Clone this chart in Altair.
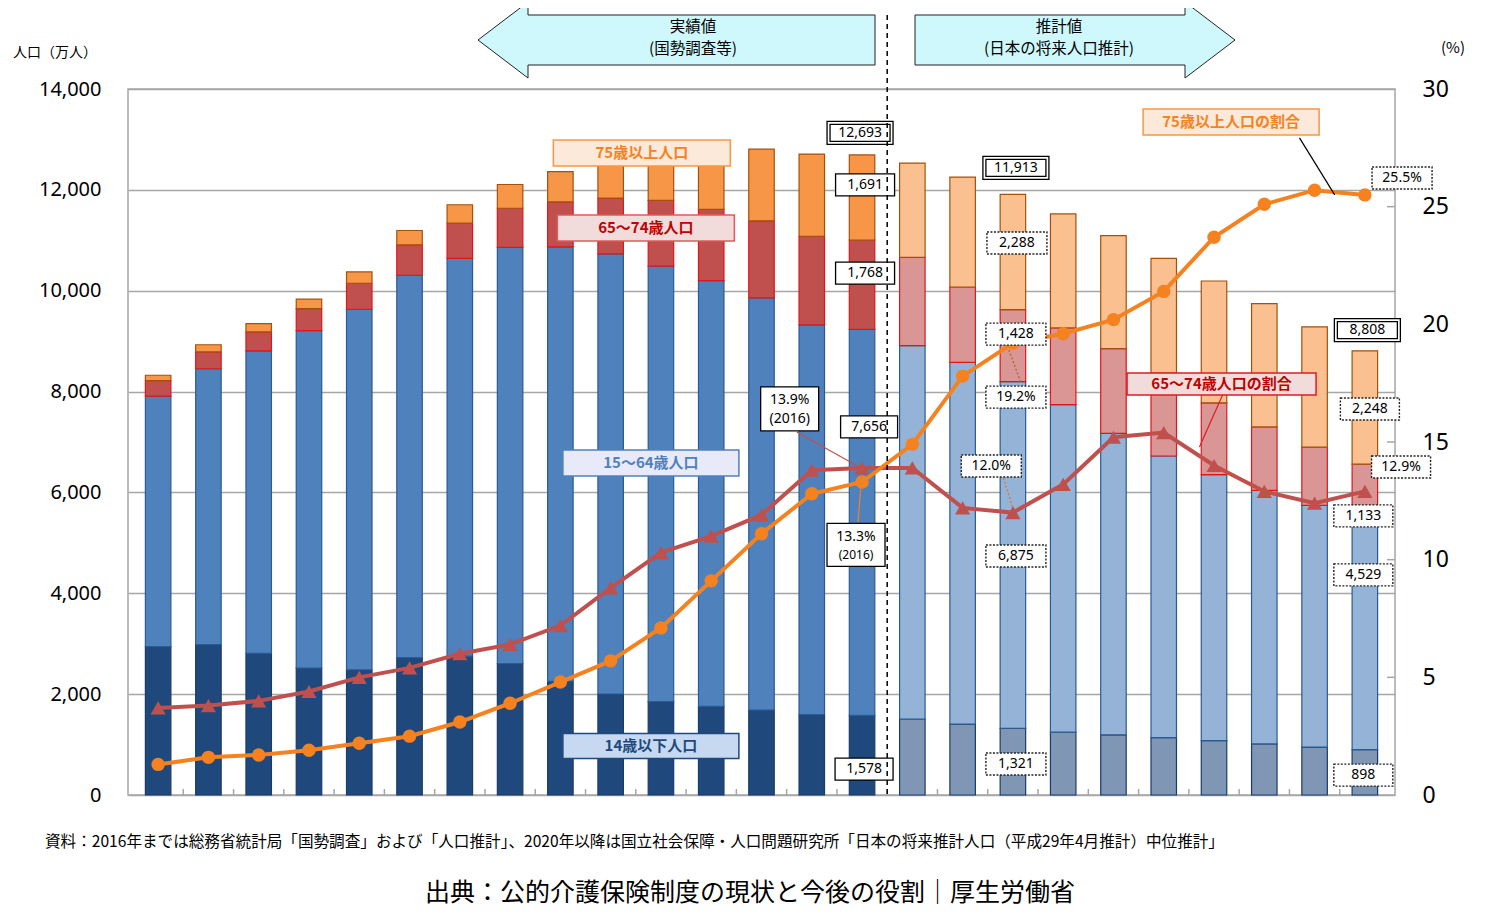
import altair as alt
import pandas as pd

# ---------------- data (万人 / %) ----------------
years = ["1950", "1955", "1960", "1965", "1970", "1975", "1980", "1985", "1990", "1995",
         "2000", "2005", "2010", "2015", "2016", "2020", "2025", "2030", "2035", "2040",
         "2045", "2050", "2055", "2060", "2065"]
n_actual = 15  # 1950-2016: 実績値, 2020-: 推計値

pop_0_14 = [2943, 2980, 2807, 2517, 2482, 2723, 2752, 2604, 2254, 2003, 1851, 1759, 1684,
            1595, 1578, 1507, 1407, 1321, 1246, 1194, 1138, 1077, 1012, 951, 898]
pop_15_64 = [4966, 5473, 6000, 6692, 7150, 7584, 7888, 8254, 8614, 8726, 8638, 8442, 8173,
             7728, 7656, 7406, 7170, 6875, 6494, 5978, 5584, 5275, 5028, 4793, 4529]
pop_65_74 = [309, 336, 376, 437, 516, 603, 699, 777, 894, 1110, 1303, 1412, 1528,
             1755, 1768, 1747, 1497, 1428, 1522, 1681, 1643, 1424, 1258, 1153, 1133]
pop_75_over = [106, 139, 164, 187, 224, 284, 366, 471, 599, 717, 901, 1164, 1421,
               1632, 1691, 1872, 2180, 2288, 2260, 2239, 2277, 2417, 2446, 2387, 2248]
ratio_75_over = [1.3, 1.6, 1.7, 1.9, 2.2, 2.5, 3.1, 3.9, 4.8, 5.7, 7.1, 9.1, 11.1,
                 12.8, 13.3, 14.9, 17.8, 19.2, 19.6, 20.2, 21.4, 23.7, 25.1, 25.7, 25.5]
ratio_65_74 = [3.7, 3.8, 4.0, 4.4, 5.0, 5.4, 6.0, 6.4, 7.2, 8.8, 10.3, 11.0, 11.9,
               13.8, 13.9, 13.9, 12.2, 12.0, 13.2, 15.2, 15.4, 14.0, 12.9, 12.4, 12.9]

seg_names = ["14歳以下人口", "15〜64歳人口", "65〜74歳人口", "75歳以上人口"]
seg_values = [pop_0_14, pop_15_64, pop_65_74, pop_75_over]

pct_ticks = [5, 10, 15, 20, 25]

# ---------------- tables ----------------
bar_rows = []
for k, vals in enumerate(seg_values):
    for i, v in enumerate(vals):
        bar_rows.append({"i": i, "seg": seg_names[k], "ord": k, "v": v,
                         "key": f"{k}{'a' if i < n_actual else 'p'}"})
bar_df = pd.DataFrame(bar_rows)
ratio_df = pd.DataFrame({"i": list(range(len(years))), "r75": ratio_75_over, "r65": ratio_65_74})
bound_df = pd.DataFrame({"b": [k + 0.5 for k in range(len(years) - 1)]})
divider_df = pd.DataFrame({"b": [n_actual - 0.5]})
pct_tick_df = pd.DataFrame({"t": pct_ticks})
one = pd.DataFrame({"_": [0]})

JP = "Noto Sans CJK JP"
NUM = "Noto Sans"

X_SCALE = alt.Scale(domain=[-0.5, len(years) - 0.5], nice=False, zero=False)
POP_SCALE = alt.Scale(domain=[0, 14000], nice=False)
PCT_SCALE = alt.Scale(domain=[0, 30], nice=False)

label_expr = "[" + ",".join(f"'{y}'" for y in years) + "][datum.value]"

x_axis = alt.Axis(values=list(range(len(years))), labelExpr=label_expr, ticks=False, grid=False,
                  domain=False, labelFontSize=16, labelPadding=11, labelFlush=False,
                  labelOverlap=False, title=None, labelColor="#000", labelFont=NUM)
pop_axis = alt.Axis(values=list(range(0, 14001, 2000)), format=",d", ticks=False, domain=False,
                    grid=True, gridColor="#A6A6A6", gridWidth=1.5, labelFontSize=20,
                    labelPadding=27, labelFlush=False, title=None, labelColor="#000", labelFont=NUM)
pct_axis = alt.Axis(orient="right", values=[0, 5, 10, 15, 20, 25, 30], ticks=False, domain=False,
                    grid=False, labelFontSize=23, labelPadding=27, labelFlush=False, title=None,
                    labelColor="#000", labelFont=NUM)

# ---------------- bars ----------------
fill_domain = ["0a", "0p", "1a", "1p", "2a", "2p", "3a", "3p"]
fill_range = ["#1F497D", "#7F96B4", "#4F81BD", "#95B3D7", "#C0504D", "#D99694", "#F79646", "#FAC090"]
stroke_range = ["#1A3C6A", "#2B5B94", "#E0161B", "#A3520E"]

bars = alt.Chart(bar_df).mark_bar(width=25.5, strokeWidth=1.2).encode(
    x=alt.X("i:Q", scale=X_SCALE, axis=x_axis),
    y=alt.Y("v:Q", stack="zero", scale=POP_SCALE, axis=pop_axis),
    color=alt.Color("key:N", scale=alt.Scale(domain=fill_domain, range=fill_range), legend=None),
    stroke=alt.Stroke("seg:N", scale=alt.Scale(domain=seg_names, range=stroke_range), legend=None),
    order=alt.Order("ord:Q", sort="ascending"),
)

# ---------------- ratio lines ----------------
base_r = alt.Chart(ratio_df).encode(x=alt.X("i:Q", scale=X_SCALE, axis=None))
line65 = base_r.mark_line(color="#C0504D", strokeWidth=4).encode(
    y=alt.Y("r65:Q", scale=PCT_SCALE, axis=pct_axis))
pts65 = base_r.mark_point(shape="triangle-up", filled=True, size=230, color="#C0504D", opacity=1).encode(
    y=alt.Y("r65:Q", scale=PCT_SCALE, axis=pct_axis))
line75 = base_r.mark_line(color="#F5821F", strokeWidth=4).encode(
    y=alt.Y("r75:Q", scale=PCT_SCALE, axis=pct_axis))
pts75 = base_r.mark_point(shape="circle", filled=True, size=180, color="#F5821F", opacity=1).encode(
    y=alt.Y("r75:Q", scale=PCT_SCALE, axis=pct_axis))
right_ticks = alt.Chart(pct_tick_df).mark_rule(color="#A6A6A6", strokeWidth=1.5).encode(
    y=alt.Y("t:Q", scale=PCT_SCALE, axis=pct_axis), x=alt.value(1259), x2=alt.value(1267))

lines_layer = alt.layer(line65, right_ticks, pts65, line75, pts75)

# ---------------- annotations (data coordinates: column index, 万人) ----------------
def rect_path(w, h):
    return f"M{-w/2},{-h/2}H{w/2}V{h/2}H{-w/2}Z"

def double_path(w, h):
    return rect_path(w, h) + " " + rect_path(w - 6, h - 6)

solid_boxes = pd.DataFrame([
    {"i": 14.06, "v": 12100, "w": 59, "h": 22, "label": "1,691"},
    {"i": 14.06, "v": 10350, "w": 59, "h": 22, "label": "1,768"},
    {"i": 14.14, "v": 7300, "w": 57, "h": 22, "label": "7,656"},
    {"i": 14.04, "v": 515, "w": 58, "h": 22, "label": "1,578"},
    {"i": 12.56, "v": 7655, "w": 58, "h": 44, "label": ""},
    {"i": 13.88, "v": 4960, "w": 58, "h": 43, "label": ""},
])
solid_boxes["path"] = [rect_path(w, h) for w, h in zip(solid_boxes.w, solid_boxes.h)]

double_boxes = pd.DataFrame([
    {"i": 13.96, "v": 13130, "w": 66, "h": 23, "label": "12,693"},
    {"i": 17.06, "v": 12435, "w": 66, "h": 23, "label": "11,913"},
    {"i": 24.05, "v": 9220, "w": 66, "h": 23, "label": "8,808"},
])
double_boxes["path"] = [double_path(w, h) for w, h in zip(double_boxes.w, double_boxes.h)]

dotted_boxes = pd.DataFrame([
    {"i": 17.08, "v": 10945, "w": 60, "h": 22, "label": "2,288"},
    {"i": 17.06, "v": 9140, "w": 60, "h": 22, "label": "1,428"},
    {"i": 17.06, "v": 7890, "w": 60, "h": 22, "label": "19.2%"},
    {"i": 16.57, "v": 6525, "w": 60, "h": 22, "label": "12.0%"},
    {"i": 17.06, "v": 4740, "w": 60, "h": 22, "label": "6,875"},
    {"i": 17.06, "v": 615, "w": 60, "h": 22, "label": "1,321"},
    {"i": 24.10, "v": 7655, "w": 59, "h": 22, "label": "2,248"},
    {"i": 24.72, "v": 6505, "w": 59, "h": 22, "label": "12.9%"},
    {"i": 23.97, "v": 5535, "w": 59, "h": 22, "label": "1,133"},
    {"i": 23.97, "v": 4365, "w": 59, "h": 22, "label": "4,529"},
    {"i": 23.97, "v": 395, "w": 59, "h": 22, "label": "898"},
    {"i": 24.74, "v": 12235, "w": 60, "h": 22, "label": "25.5%"},
])
dotted_boxes["path"] = [rect_path(w, h) for w, h in zip(dotted_boxes.w, dotted_boxes.h)]

two_line_text = pd.DataFrame([
    {"i": 12.56, "v": 7835, "label": "13.9%", "fs": 14},
    {"i": 12.56, "v": 7455, "label": "(2016)", "fs": 14},
    {"i": 13.88, "v": 5115, "label": "13.3%", "fs": 14},
    {"i": 13.88, "v": 4760, "label": "(2016)", "fs": 12},
])

cat_boxes = pd.DataFrame([
    {"i": 9.62, "v": 12730, "w": 177, "h": 26, "fill": "#FDE9D9", "stroke": "#F79646", "tc": "#F58220", "label": "75歳以上人口"},
    {"i": 9.70, "v": 11245, "w": 177, "h": 26, "fill": "#F2DCDB", "stroke": "#E05A5A", "tc": "#C00000", "label": "65〜74歳人口"},
    {"i": 9.80, "v": 6585, "w": 176, "h": 26, "fill": "#E8EAF9", "stroke": "#4F81BD", "tc": "#4F81BD", "label": "15〜64歳人口"},
    {"i": 9.80, "v": 970, "w": 176, "h": 25, "fill": "#C6D9F1", "stroke": "#1F497D", "tc": "#1F497D", "label": "14歳以下人口"},
    {"i": 21.34, "v": 13345, "w": 176, "h": 26, "fill": "#FDE9D9", "stroke": "#F79646", "tc": "#F58220", "label": "75歳以上人口の割合"},
    {"i": 21.15, "v": 8150, "w": 189, "h": 22, "fill": "#F2DCDB", "stroke": "#E01B23", "tc": "#C00000", "label": "65〜74歳人口の割合"},
])
cat_boxes["path"] = [rect_path(w, h) for w, h in zip(cat_boxes.w, cat_boxes.h)]

leaders_solid = pd.DataFrame([
    {"i": 12.70, "v": 7200, "i2": 13.98, "v2": 6485, "c": "#C0504D"},
    {"i": 13.92, "v": 5415, "i2": 13.98, "v2": 6185, "c": "#F08030"},
    {"i": 22.70, "v": 13030, "i2": 23.40, "v2": 11900, "c": "#000000"},
    {"i": 21.17, "v": 7930, "i2": 20.71, "v2": 6900, "c": "#E01B23"},
])
leaders_dotted = pd.DataFrame([
    {"i": 16.92, "v": 8825, "i2": 17.16, "v2": 8170, "c": "#B06A28"},
    {"i": 16.81, "v": 6285, "i2": 17.00, "v2": 5690, "c": "#D87A2A"},
])

def xenc(f="i"):
    return alt.X(f"{f}:Q", scale=X_SCALE, axis=None)

def yenc(f="v"):
    return alt.Y(f"{f}:Q", scale=POP_SCALE, axis=None)

def leader_chart(df, dash=None, width=1.2):
    kw = {"strokeWidth": width}
    if dash:
        kw["strokeDash"] = dash
    return alt.Chart(df).mark_rule(**kw).encode(
        x=xenc("i"), y=yenc("v"), x2="i2:Q", y2="v2:Q",
        color=alt.Color("c:N", scale=None))

def box_chart(df, stroke="#000", dash=None, width=1.2):
    kw = dict(filled=True, fill="white", stroke=stroke, strokeWidth=width, size=4, opacity=1)
    if dash:
        kw["strokeDash"] = dash
    return alt.Chart(df).mark_point(**kw).encode(
        x=xenc(), y=yenc(), shape=alt.Shape("path:N", scale=None))

def box_text(df, size=14):
    return alt.Chart(df).mark_text(font=NUM, fontSize=size, color="#000", baseline="middle").encode(
        x=xenc(), y=yenc(), text="label:N")

cat_box_chart = alt.Chart(cat_boxes).mark_point(filled=True, size=4, opacity=1, strokeWidth=1.5).encode(
    x=xenc(), y=yenc(), shape=alt.Shape("path:N", scale=None),
    fill=alt.Fill("fill:N", scale=None), stroke=alt.Stroke("stroke:N", scale=None))
cat_text_chart = alt.Chart(cat_boxes).mark_text(font=JP, fontSize=15, fontWeight="bold", baseline="middle").encode(
    x=xenc(), y=yenc(), text="label:N", color=alt.Color("tc:N", scale=None))

two_line_chart = alt.Chart(two_line_text).mark_text(font=NUM, color="#000", baseline="middle").encode(
    x=xenc(), y=yenc(), text="label:N", size=alt.Size("fs:Q", scale=None))

divider = alt.Chart(divider_df).mark_rule(color="#000", strokeWidth=1.5, strokeDash=[5, 4]).encode(
    x=xenc("b"), y=alt.value(-74), y2=alt.value(706))
bottom_ticks = alt.Chart(bound_df).mark_rule(color="#A6A6A6", strokeWidth=1.5).encode(
    x=xenc("b"), y=alt.value(700), y2=alt.value(706))

# ---------------- header arrows & free text (page decorations) ----------------
left_arrow = "M-198,0L-148,-38L-148,-25L199,-25L199,25L-148,25L-148,38Z"
right_arrow = "M-160,-25L110,-25L110,-38L160,0L110,38L110,25L-160,25Z"

def arrow(path, x, y):
    return alt.Chart(one).mark_point(shape=path, size=4, filled=True, fill="#CFF8FD",
                                     stroke="#222", strokeWidth=1, opacity=1).encode(
        x=alt.value(x), y=alt.value(y))

def ptext(txt, x, y, size, align="center", font=JP, color="#000"):
    return alt.Chart(one).mark_text(text=txt, align=align, baseline="middle", fontSize=size,
                                    font=font, color=color).encode(x=alt.value(x), y=alt.value(y))

decor = [
    arrow(left_arrow, 548, -49),
    arrow(right_arrow, 947, -49),
    ptext("実績値", 565, -62, 15.5),
    ptext("(国勢調査等)", 565, -40, 15.5),
    ptext("推計値", 931, -62, 15.5),
    ptext("(日本の将来人口推計)", 931, -40, 15.5),
    ptext("人口（万人）", -73, -36, 14),
    ptext("(%)", 1325, -41, 15),
    ptext("資料：2016年までは総務省統計局「国勢調査」および「人口推計」、2020年以降は国立社会保障・人口問題研究所「日本の将来推計人口（平成29年4月推計）中位推計」",
          -83, 753, 15.6, align="left"),
    ptext("出典：公的介護保険制度の現状と今後の役割｜厚生労働省", 622, 804, 25),
]

annot_layer = alt.layer(
    bottom_ticks,
    leader_chart(leaders_solid),
    leader_chart(leaders_dotted, dash=[2, 2], width=1.4),
    cat_box_chart, cat_text_chart,
    box_chart(solid_boxes, width=1.3),
    box_chart(double_boxes, width=1.3),
    box_chart(dotted_boxes, stroke="#222", dash=[2, 1.5], width=1.4),
    box_text(solid_boxes), box_text(double_boxes), box_text(dotted_boxes),
    two_line_chart,
    divider,
    *decor,
)

chart = alt.layer(bars, lines_layer, annot_layer).resolve_scale(y="independent").properties(
    width=1267, height=706,
    autosize=alt.AutoSizeParams(type="none"),
    padding={"left": 120, "top": 81, "right": 97, "bottom": 118},
).configure_view(stroke="#A6A6A6", strokeWidth=1.5)

chart.save("out.html", embed_options={"renderer": "svg", "actions": False})
